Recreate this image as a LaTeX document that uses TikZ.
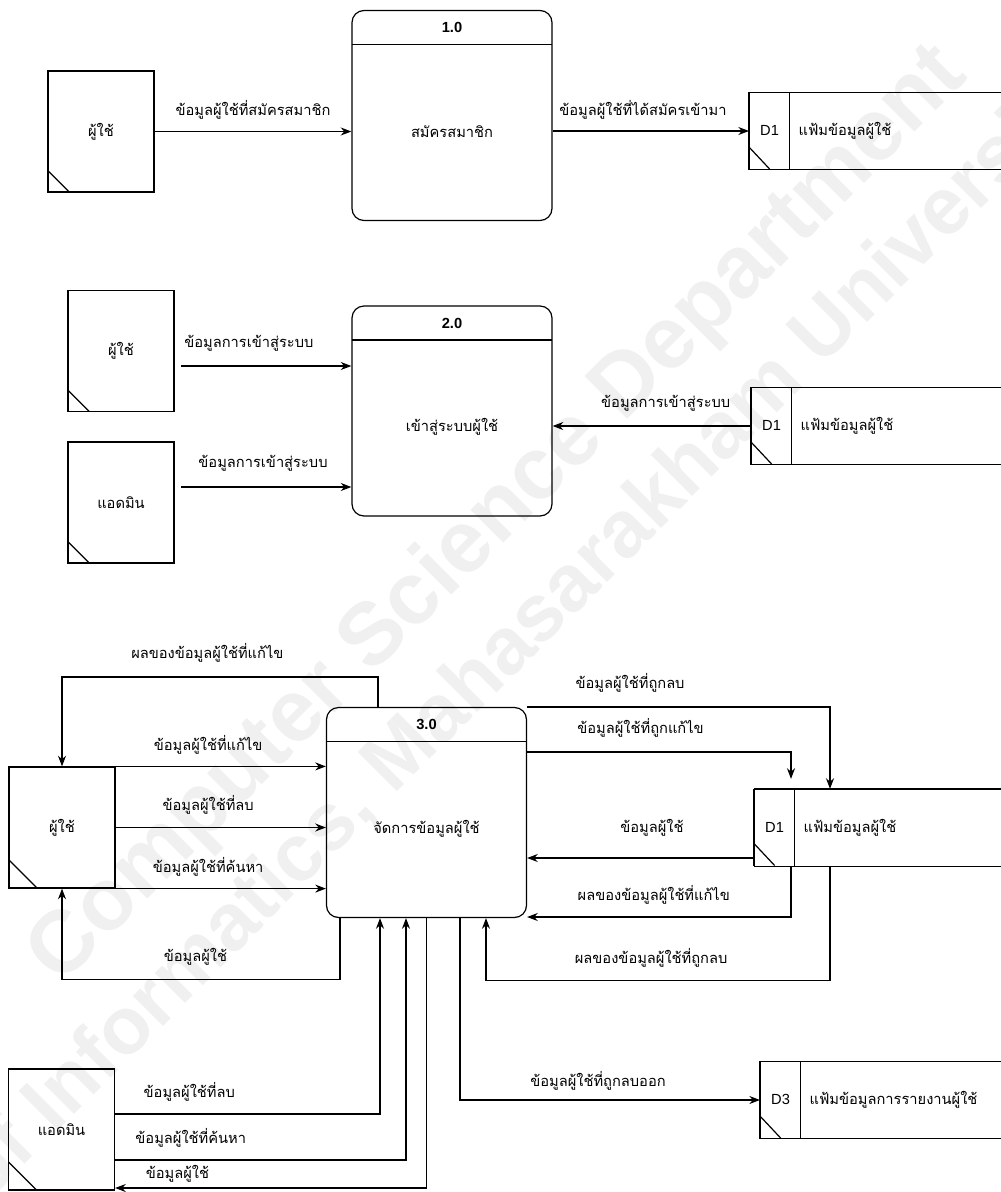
\documentclass[tikz,border=0pt]{standalone}
\usepackage{fontspec}
\setmainfont{Liberation Sans}[Scale=1.1]
\newfontfamily\thaifont[Script=Thai,Scale=1.1]{Loma}
\usepackage{tikz}
\usetikzlibrary{arrows.meta}
\tikzset{
    >={Stealth[length=8pt,width=6pt]},
    flow/.style={->},
    flowtext/.style={font=\thaifont},
    entity/.style={draw, minimum width=79.5pt, minimum height=90.75pt, inner sep=0pt, font=\thaifont,
        path picture={\draw ([yshift=#1]path picture bounding box.south west) -- ([xshift=#1]path picture bounding box.south west);}},
    entity/.default=16pt,
    process/.style={draw, rounded corners=9pt, minimum width=150pt, minimum height=157.5pt, inner sep=0pt,
        path picture={\draw ([yshift=-25.5pt]path picture bounding box.north west) -- ([yshift=-25.5pt]path picture bounding box.north east);}},
    procnum/.style={anchor=center, yshift=-13.5pt, font=\bfseries},
    proctext/.style={anchor=center, yshift=-12pt, font=\thaifont},
    store/.style={anchor=west, minimum width=#1, text width=#1, minimum height=57pt, inner sep=0pt, align=left,
        path picture={
            \draw ([xshift=30pt]path picture bounding box.north west) -- ([xshift=30pt]path picture bounding box.south west);
            \draw ([yshift=16pt]path picture bounding box.south west) -- ([xshift=15pt]path picture bounding box.south west);},
        append after command={
            (\tikzlastnode.north east) edge (\tikzlastnode.north west)
            (\tikzlastnode.north west) edge (\tikzlastnode.south west)
            (\tikzlastnode.south west) edge (\tikzlastnode.south east)}},
    watermark/.style={rotate=45, text=black!6, font=\fontsize{#1}{#1}\selectfont\bfseries}
}

\begin{document}
\begin{tikzpicture}[x=0.75pt, y=-0.75pt, line width=0.9pt]
    \useasboundingbox (0,0) rectangle (1000,1192);

    \node[watermark=60pt] (wm1) at (499,516) {Computer Science Department};
    \node[watermark=55pt] (wm2) at (419,741) {Faculty of Informatics, Mahasarakham University};

    \node[entity] (u1) at (101,131.5) {ผู้ใช้};
    \node[process, label={[procnum]north:1.0}, label={[proctext]center:สมัครสมาชิก}] (p1) at (452,115.5) {};
    \node[store=188.25pt] (s1) at (749,131) {\makebox[30pt]{D1}\hspace{6.75pt}{\thaifont แฟ้มข้อมูลผู้ใช้}};

    \draw[flow] (u1.east) -- (p1.west |- u1.east) node[flowtext, midway, yshift=16.5pt] {ข้อมูลผู้ใช้ที่สมัครสมาชิก};
    \draw[flow] (p1.east |- s1.west) -- (s1.west) node[flowtext, pos=0.46, yshift=16pt] {ข้อมูลผู้ใช้ที่ได้สมัครเข้ามา};

    \node[entity] (u2) at (121,351) {ผู้ใช้};
    \node[entity] (a2) at (121,502.5) {แอดมิน};
    \node[process, label={[procnum]north:2.0}, label={[proctext]center:เข้าสู่ระบบผู้ใช้}] (p2) at (452,411) {};
    \node[store=186.75pt] (s2) at (751,426) {\makebox[30pt]{D1}\hspace{6.75pt}{\thaifont แฟ้มข้อมูลผู้ใช้}};

    \draw[flow, shorten <=5pt] (u2.east |- 0,366) -- (p2.west |- 0,366) node[flowtext, pos=0.42, yshift=17pt] {ข้อมูลการเข้าสู่ระบบ};
    \draw[flow, shorten <=5pt] (a2.east |- 0,487) -- (p2.west |- 0,487) node[flowtext, midway, yshift=18pt] {ข้อมูลการเข้าสู่ระบบ};
    \draw[flow] (s2.west) -- (s2.west -| p2.east) node[flowtext, pos=0.43, yshift=17pt] {ข้อมูลการเข้าสู่ระบบ};

    \node[entity=21pt] (u3) at (62,827.5) {ผู้ใช้};
    \node[entity=21pt] (a3) at (61.5,1129.5) {แอดมิน};
    \node[process, label={[procnum]north:3.0}, label={[proctext]center:จัดการข้อมูลผู้ใช้}] (p3) at (426.5,812.5) {};
    \node[store=184.5pt] (s3) at (754,827.5) {\makebox[30pt]{D1}\hspace{6.75pt}{\thaifont แฟ้มข้อมูลผู้ใช้}};
    \node[store=180pt] (s4) at (760,1100) {\makebox[30pt]{D3}\hspace{6.75pt}{\thaifont แฟ้มข้อมูลการรายงานผู้ใช้}};

    \draw[flow] (p3.north -| 378,0) -- ++(0,-30) -| (u3.north) node[flowtext, pos=0.27, yshift=18pt] {ผลของข้อมูลผู้ใช้ที่แก้ไข};
    \draw[flow] (u3.north east) -- (u3.north east -| p3.west) node[flowtext, pos=0.44, yshift=16.5pt] {ข้อมูลผู้ใช้ที่แก้ไข};
    \draw[flow] (u3.east) -- (u3.east -| p3.west) node[flowtext, pos=0.44, yshift=17pt] {ข้อมูลผู้ใช้ที่ลบ};
    \draw[flow] (u3.south east) -- (u3.south east -| p3.west) node[flowtext, pos=0.44, yshift=16.5pt] {ข้อมูลผู้ใช้ที่ค้นหา};
    \draw[flow] (p3.south -| 340,0) -- ++(0,61) -| (u3.south) node[flowtext, pos=0.26, yshift=16.5pt] {ข้อมูลผู้ใช้};

    \draw[flow] (p3.north east) -| (s3.north -| 830,0) node[flowtext, pos=0.17, yshift=18pt] {ข้อมูลผู้ใช้ที่ถูกลบ};
    \draw[flow, shorten >=7.5pt] (p3.east |- 0,752) -| (s3.north -| 791,0) node[flowtext, pos=0.215, yshift=18pt] {ข้อมูลผู้ใช้ที่ถูกแก้ไข};
    \draw[flow] (s3.west |- 0,858) -- (p3.east |- 0,858) node[flowtext, pos=0.45, yshift=23pt] {ข้อมูลผู้ใช้};
    \draw[flow] (s3.south -| 791,0) |- (p3.east |- 0,917) node[flowtext, pos=0.76, yshift=16.5pt] {ผลของข้อมูลผู้ใช้ที่แก้ไข};
    \draw[flow] (s3.south -| 830,0) -- ++(0,114) -| (p3.south -| 486,0) node[flowtext, pos=0.26, yshift=16.5pt] {ผลของข้อมูลผู้ใช้ที่ถูกลบ};

    \draw[flow] (a3.east |- 0,1114) -| (p3.south -| 380,0) node[flowtext, pos=0.14, yshift=16.5pt] {ข้อมูลผู้ใช้ที่ลบ};
    \draw[flow] (a3.east |- 0,1160) -| (p3.south -| 406,0) node[flowtext, pos=0.13, yshift=16.5pt] {ข้อมูลผู้ใช้ที่ค้นหา};
    \draw[flow] (p3.south) |- (a3.east |- 0,1188) node[flowtext, pos=0.9, yshift=11pt] {ข้อมูลผู้ใช้};
    \draw[flow] (p3.south -| 460,0) |- (s4.west) node[flowtext, pos=0.73, yshift=14pt] {ข้อมูลผู้ใช้ที่ถูกลบออก};

\end{tikzpicture}
\end{document}
